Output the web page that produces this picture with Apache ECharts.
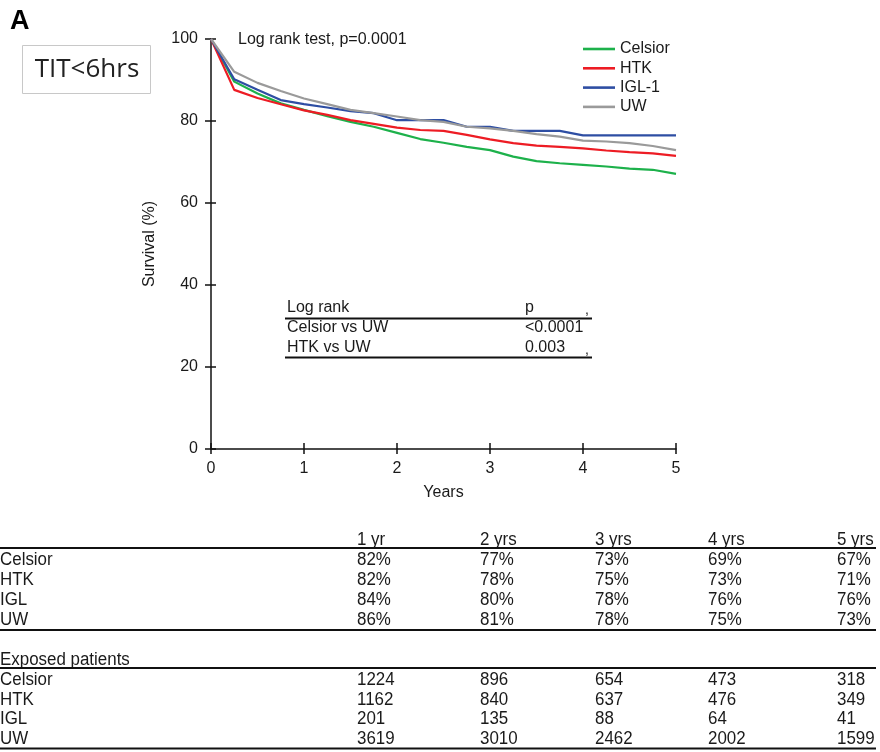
<!DOCTYPE html>
<html><head><meta charset="utf-8">
<script src="https://cdn.jsdelivr.net/npm/echarts@6/dist/echarts.min.js"></script>
<style>html,body{margin:0;padding:0;background:#fff}#c{width:880px;height:752px}</style>
</head><body><div id="c"></div>
<script>
const years = [0,0.25,0.5,0.75,1,1.25,1.5,1.75,2,2.25,2.5,2.75,3,3.25,3.5,3.75,4,4.25,4.5,4.75,5];
const celsior = [100,89.6,86.7,84.3,82.7,81.2,79.8,78.6,77.1,75.6,74.7,73.7,72.9,71.3,70.2,69.7,69.3,68.9,68.4,68.1,67.1];
const htk     = [100,87.6,85.6,84.1,82.6,81.5,80.2,79.3,78.4,77.8,77.6,76.6,75.5,74.6,74.0,73.7,73.3,72.8,72.4,72.1,71.5];
const igl1    = [100,90.2,87.6,85.1,84.1,83.3,82.4,81.9,80.2,80.2,80.2,78.6,78.6,77.6,77.6,77.6,76.5,76.5,76.5,76.5,76.5];
const uw      = [100,92.0,89.3,87.3,85.5,84.1,82.7,81.9,81.1,80.2,79.8,78.6,78.2,77.6,76.8,76.2,75.2,75.0,74.6,73.9,72.9];
const seriesNames = ['Celsior','HTK','IGL-1','UW'];
const seriesColors = ['#1db14b','#ed1c24','#2e4ea3','#9a9a9a'];

const logRankHeader = ['Log rank','p'];
const logRankRows = [['Celsior vs UW','<0.0001'],['HTK vs UW','0.003']];

const colLabels = ['1 yr','2 yrs','3 yrs','4 yrs','5 yrs'];
const rowNames = ['Celsior','HTK','IGL','UW'];
const survPct = [[82,77,73,69,67],[82,78,75,73,71],[84,80,78,76,76],[86,81,78,75,73]];
const exposedTitle = 'Exposed patients';
const exposed = [[1224,896,654,473,318],[1162,840,637,476,349],[201,135,88,64,41],[3619,3010,2462,2002,1599]];

const FONT = 'Liberation Sans, Arial, sans-serif';
const colX = [357,480,595,708,837];

const chart = echarts.init(document.getElementById('c'), null, {renderer:'canvas'});
const all = [celsior, htk, igl1, uw];
const series = all.map((arr,i)=>({
  name: seriesNames[i], type:'line', symbol:'none', showSymbol:false, xAxisIndex:0, yAxisIndex:0,
  data: years.map((x,j)=>[x,arr[j]]),
  lineStyle:{color:seriesColors[i], width:2.2}, itemStyle:{color:seriesColors[i]},
  emphasis:{disabled:true}, animation:false
}));

const g = [];
function txt(x,y,t,opt,extra){ g.push(Object.assign({type:'text', x:x, y:y, silent:true, style:Object.assign({text:t, fill:'#1a1a1a', font:'16px '+FONT, textVerticalAlign:'middle', textAlign:'left'}, opt||{})}, extra||{})); }
function hline(x1,x2,y,w){ g.push({type:'line', silent:true, shape:{x1:x1,y1:y,x2:x2,y2:y}, style:{stroke:'#111', lineWidth:w||2}}); }

// panel label and box
txt(10,22,'A',{font:'bold 27px '+FONT, fill:'#000'});
g.push({type:'rect', silent:true, shape:{x:22.5,y:45.5,width:128,height:48}, style:{fill:'#fff', stroke:'#c8c8c8', lineWidth:1}});
txt(87,70,'TIT<6hrs',{font:'26px "Open Sans", "Noto Sans", sans-serif', textAlign:'center', fill:'#222'});
txt(238,40,'Log rank test, p=0.0001',{font:'16px '+FONT});

// inset log-rank table
txt(287,308,logRankHeader[0],{font:'16px '+FONT});
txt(525,308,logRankHeader[1],{font:'16px '+FONT});
txt(585,310,',',{font:'14px '+FONT});
hline(285,592,318.5,2);
logRankRows.forEach((r,i)=>{ txt(287,328+20*i,r[0]); txt(525,328+20*i,r[1]); });
txt(585,350,',',{font:'14px '+FONT});
hline(285,592,357.5,2);

// survival table
const TF = {font:'18px '+FONT};
const SX = {scaleX:0.94};
colLabels.forEach((c,j)=>txt(colX[j],540,c,TF,SX));
hline(0,876,548,2);
rowNames.forEach((n,i)=>{
  txt(0,560+20*i,n,TF,SX);
  survPct[i].forEach((v,j)=>txt(colX[j],560+20*i,v+'%',TF,SX));
});
hline(0,876,630,2);

// exposed table
txt(0,660,exposedTitle,TF,SX);
hline(0,876,668,2);
rowNames.forEach((n,i)=>{
  txt(0,680+19.7*i,n,TF,SX);
  exposed[i].forEach((v,j)=>txt(colX[j],680+19.7*i,String(v),TF,SX));
});
hline(0,876,748.5,2);

const axLine = {show:true, lineStyle:{color:'#111', width:1.5}};
chart.setOption({
  animation:false,
  backgroundColor:'#fff',
  grid:{left:211, right:204, top:39, bottom:303, containLabel:false},
  legend:{
    orient:'vertical', left:578, top:36, itemWidth:32, itemHeight:2.6, itemGap:3.3, icon:'rect',
    data:seriesNames, selectedMode:false,
    textStyle:{fontFamily:FONT, fontSize:16, lineHeight:16, color:'#1a1a1a'}
  },
  xAxis:[
    {type:'value', min:0, max:5, interval:1, position:'bottom',
     name:'Years', nameLocation:'middle', nameGap:36, nameTextStyle:{fontFamily:FONT, fontSize:16, color:'#1a1a1a'},
     axisLine:axLine, axisTick:{show:true, length:5, lineStyle:{color:'#111', width:1.5}},
     axisLabel:{fontFamily:FONT, fontSize:16, color:'#1a1a1a', margin:12}, splitLine:{show:false}},
    {type:'value', min:0, max:5, interval:1, position:'bottom',
     axisLine:{show:false}, axisTick:{show:true, inside:true, length:6, lineStyle:{color:'#111', width:1.5}},
     axisLabel:{show:false}, splitLine:{show:false}}
  ],
  yAxis:[
    {type:'value', min:0, max:100, interval:20, position:'left',
     name:'Survival (%)', nameLocation:'middle', nameGap:53, nameRotate:90,
     nameTextStyle:{fontFamily:FONT, fontSize:16, color:'#1a1a1a'},
     axisLine:axLine, axisTick:{show:true, length:6, lineStyle:{color:'#111', width:1.5}},
     axisLabel:{fontFamily:FONT, fontSize:16, color:'#1a1a1a', margin:13}, splitLine:{show:false}},
    {type:'value', min:0, max:100, interval:20, position:'left',
     axisLine:{show:false}, axisTick:{show:true, inside:true, length:5, lineStyle:{color:'#111', width:1.5}},
     axisLabel:{show:false}, splitLine:{show:false}}
  ],
  series: series,
  graphic: g
});
</script>
</body></html>
